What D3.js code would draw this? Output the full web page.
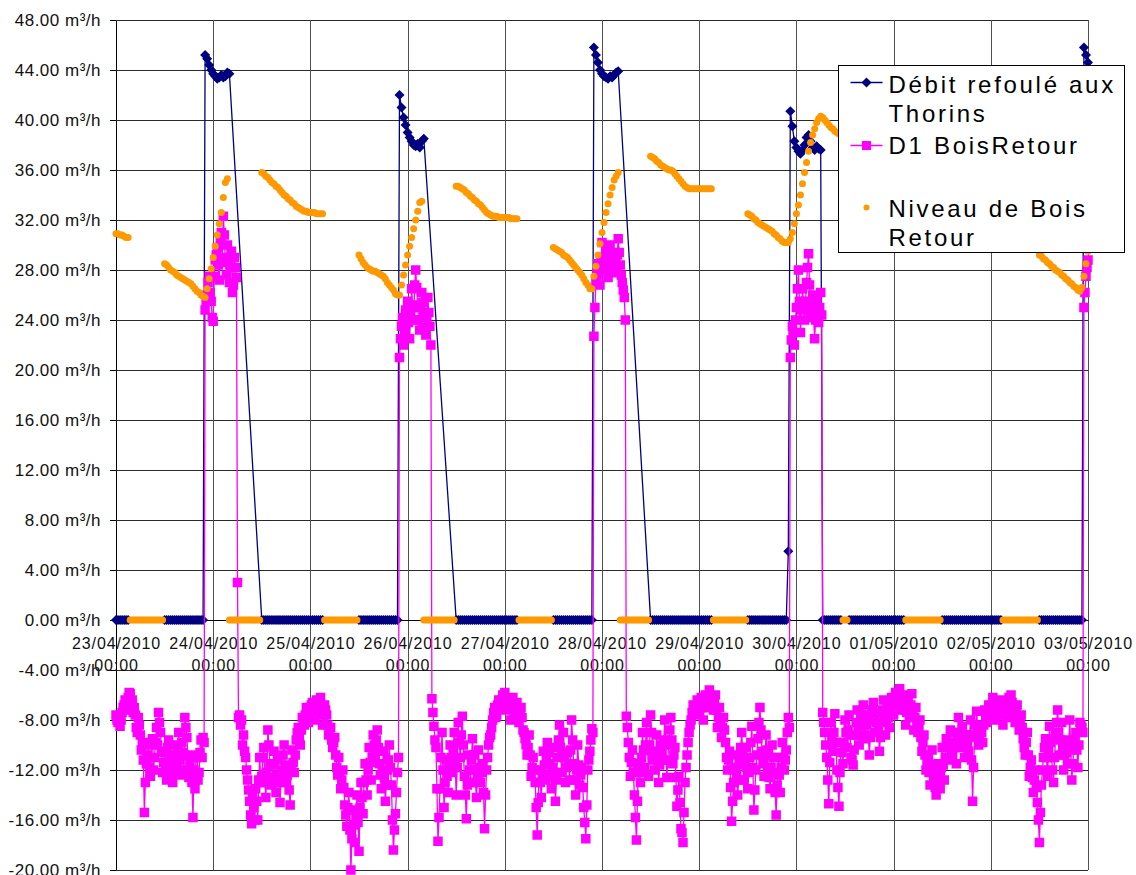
<!DOCTYPE html>
<html>
<head>
<meta charset="utf-8">
<script src="https://cdn.jsdelivr.net/npm/d3@7/dist/d3.min.js"></script>
<style>
body { margin: 0; background: #fff; }
svg { display: block; font-family: "Liberation Sans", Arial, sans-serif; }
</style>
</head>
<body>
<svg id="chart" width="1136" height="875"></svg>
<script>
// one reading every 30 min, index 0 = 23/04/2010 00:00, one row per day, _ = no reading
var _ = null;
var dateLabels = ["23/04/2010", "24/04/2010", "25/04/2010", "26/04/2010", "27/04/2010", "28/04/2010",
                  "29/04/2010", "30/04/2010", "01/05/2010", "02/05/2010", "03/05/2010"];
var timeLabel = "00:00";
var yTicks = [-20, -16, -12, -8, -4, 0, 4, 8, 12, 16, 20, 24, 28, 32, 36, 40, 44, 48];

var debitThorins = [
  0,0,0,0,0,0,0, _,_,_,_,_,_,_,_,_,_,_,_,_,_,_,_,_, 0,0,0,0,0,0,0,0,0,0,0,0,0,0,0,0,0,0,0,0, 45.2,44.9,44.4,44.0,
  43.7,43.5,43.3,43.4,43.6,43.4,43.5,43.8,43.7, _,_,_,_,_,_,_,_,_,_,_,_,_,_,_, 0,0,0,0,0,0,0,0,0,0,0,0,0,0,0,0,0,0,0,0,0,0,0,0,
  0,0,0,0,0,0,0, _,_,_,_,_,_,_,_,_,_,_,_,_,_,_,_,_, 0,0,0,0,0,0,0,0,0,0,0,0,0,0,0,0,0,0,0,0, 42.0,41.0,40.2,39.6,
  39.0,38.6,38.3,38.0,37.9,38.1,37.8,38.3,38.5, _,_,_,_,_,_,_,_,_,_,_,_,_,_,_, 0,0,0,0,0,0,0,0,0,0,0,0,0,0,0,0,0,0,0,0,0,0,0,0,
  0,0,0,0,0,0,0, _,_,_,_,_,_,_,_,_,_,_,_,_,_,_,_,_, 0,0,0,0,0,0,0,0,0,0,0,0,0,0,0,0,0,0,0,0, 45.8,45.2,44.6,44.0,
  43.7,43.5,43.4,43.3,43.5,43.4,43.6,43.8,43.9, _,_,_,_,_,_,_,_,_,_,_,_,_,_,_, 0,0,0,0,0,0,0,0,0,0,0,0,0,0,0,0,0,0,0,0,0,0,0,0,
  0,0,0,0,0,0,0, _,_,_,_,_,_,_,_,_,_,_,_,_,_,_,_,_, 0,0,0,0,0,0,0,0,0,0,0,0,0,0,0,0,0,0,0,0, 5.5,40.7,39.5,38.3,
  37.8,37.5,37.3,37.6,38.0,38.6,38.8,38.3,37.8,37.6,37.9,37.7,37.6, 0,0,0,0,0,0,0,0,0,0, _,_,_, 0,0,0,0,0,0,0,0,0,0,0,0,0,0,0,0,0,0,0,0,0,0,
  0,0,0,0,0,0, _,_,_,_,_,_,_,_,_,_,_,_,_,_,_,_,_,_, 0,0,0,0,0,0,0,0,0,0,0,0,0,0,0,0,0,0,0,0,0,0,0,0,
  0,0,0,0,0,0, _,_,_,_,_,_,_,_,_,_,_,_,_,_,_,_,_,_, 0,0,0,0,0,0,0,0,0,0,0,0,0,0,0,0,0,0,0,0,0,0, 45.8,45.2,
  44.6
];

// D1 BoisRetour, readings on the hour and half hour
var d1BoisRetour = [
  -7.6,-8.2,-8.5,-7.4,-6.8,-6.6,-6.2,-5.9,-6.4,-7.0,-8.6,-7.8,-9.2,-9.8,-15.4,-11.5,-10.0,-12.5,-9.5,-11.0,-8.6,-7.4,-9.0,-12.2,
    -10.5,-12.8,-9.6,-11.2,-13.0,-10.0,-11.8,-9.0,-12.4,-10.6,-7.8,-9.4,-12.6,-11.0,-15.8,-13.5,-10.8,-12.2,-9.6,-9.4,24.8,26.0,27.5,25.5,
  23.9,28.8,29.8,27.2,31.0,32.3,28.6,30.0,27.0,29.5,26.8,28.2,3.0,-7.6,-8.0,-9.2,-11.0,-12.8,-14.5,-16.3,-15.0,-13.5,-16.0,-11.0,
    -12.5,-10.2,-14.2,-8.8,-11.5,-12.8,-10.5,-13.8,-11.2,-14.6,-12.0,-10.0,-13.0,-11.8,-14.8,-10.4,-12.2,-9.6,-8.6,-10.0,-7.8,-8.4,-7.0,-8.2,
  -7.2,-6.6,-8.0,-6.4,-7.4,-6.2,-8.4,-6.8,-7.6,-9.2,-8.6,-10.2,-9.4,-11.8,-11.0,-13.5,-12.0,-14.8,-16.5,-13.8,-20.0,-15.2,-17.8,-14.0,
    -18.5,-13.0,-15.5,-11.5,-14.0,-10.2,-12.8,-9.2,-10.8,-8.8,-11.5,-13.5,-10.5,-14.5,-12.0,-10.0,-13.2,-18.4,-15.5,-12.2,21.0,23.5,22.0,24.8,
  25.5,22.5,26.5,24.0,28.0,25.0,23.2,26.2,24.5,22.8,25.8,23.5,-6.3,-8.5,-10.2,-17.7,-13.5,-9.0,-15.0,-11.2,-13.8,-10.0,-12.2,-9.0,
    -14.0,-8.2,-11.0,-7.7,-12.5,-15.9,-10.8,-13.0,-9.5,-12.0,-14.2,-10.4,-13.0,-11.5,-16.7,-12.0,-10.0,-9.2,-8.0,-7.0,-7.6,-6.4,-7.2,-6.0,
  -5.8,-7.0,-6.4,-8.0,-6.2,-7.4,-6.6,-8.2,-7.0,-8.8,-9.5,-10.8,-9.2,-12.5,-11.0,-13.0,-17.2,-12.0,-14.2,-10.5,-12.8,-9.8,-11.5,-13.5,
    -10.2,-14.5,-11.0,-8.4,-12.2,-9.0,-13.0,-10.6,-12.8,-8.0,-11.5,-14.0,-10.0,-13.2,-11.8,-15.0,-17.5,-12.0,-10.5,-8.7,22.7,27.0,28.5,26.8,
  30.2,28.0,29.5,27.4,30.0,28.6,29.2,27.8,30.5,28.4,27.0,25.8,-7.7,-9.8,-12.5,-10.4,-14.0,-17.6,-11.5,-13.0,-9.0,-11.8,-8.2,-12.5,
    -7.6,-10.5,-12.0,-9.2,-13.0,-10.0,-11.2,-8.0,-12.6,-9.8,-7.8,-11.5,-10.2,-14.9,-12.5,-16.7,-17.8,-13.0,-10.8,-9.0,-8.0,-6.8,-7.6,-6.4,
  -7.4,-6.2,-8.0,-6.0,-7.0,-5.6,-6.5,-7.2,-6.0,-8.6,-7.0,-9.4,-7.8,-9.8,-12.0,-10.5,-16.1,-13.0,-10.8,-14.0,-11.5,-9.0,-12.8,-10.2,
    -13.5,-11.0,-8.5,-15.2,-12.0,-9.5,-7.0,-10.5,-12.5,-9.2,-11.8,-13.5,-10.0,-12.2,-15.6,-11.0,-13.8,-9.8,-12.0,-10.4,-7.8,21.0,23.5,22.0,
  25.0,28.0,23.0,26.5,24.0,27.0,29.3,24.5,26.0,22.5,25.5,23.8,26.2,-7.4,-9.0,-11.0,-14.7,-8.2,-10.5,-7.5,-12.0,-14.9,-9.8,-11.5,
    -8.0,-10.2,-7.6,-11.0,-11.6,-9.2,-7.2,-10.0,-8.4,-6.8,-9.5,-7.6,-10.8,-8.0,-6.6,-9.0,-7.4,-10.5,-8.2,-6.4,-9.2,-7.0,-8.6,-6.2,
  -7.6,-5.8,-6.8,-5.5,-7.2,-6.0,-8.4,-6.6,-7.8,-5.9,-8.8,-7.0,-9.0,-8.0,-10.5,-9.2,-12.0,-11.0,-13.2,-10.4,-12.6,-14.0,-11.5,-13.5,
    -10.2,-12.8,-9.5,-11.2,-8.8,-10.8,-9.0,-11.5,-7.8,-10.2,-8.5,-11.0,-9.2,-10.5,-8.0,-14.5,-9.4,-7.3,-10.0,-8.6,-9.8,-7.2,-8.2,-6.8,
  -7.4,-6.2,-8.0,-6.8,-7.6,-6.4,-8.4,-6.8,-7.8,-6.2,-6.0,-7.2,-8.2,-6.8,-8.8,-7.6,-9.5,-10.8,-9.0,-12.5,-11.2,-13.8,-12.0,-14.6,
    -17.8,-13.2,-11.0,-9.5,-12.5,-8.5,-11.0,-13.0,-9.2,-7.2,-10.8,-8.2,-12.0,-9.6,-11.5,-8.0,-12.8,-10.2,-9.0,-11.8,-8.2,-8.6,25.0,27.5,
  28.8
];

// D1 BoisRetour, readings at :15 and :45 (each one sits after the same index above)
var d1BoisRetourQuarter = [
  -8.0,-7.8,-8.0,-7.0,-6.4,-7.2,-5.8,-6.8,-7.4,-7.6,-9.0,-8.4,-10.4,-11.2,-13.0,-10.8,-11.8,-9.8,-12.0,-9.8,-10.0,-8.2,-10.6,-11.4,
    -12.0,-10.2,-11.8,-12.5,-10.8,-12.0,-10.4,-11.2,-9.8,-12.0,-8.6,-10.8,-11.5,-13.0,-12.0,-11.0,-12.8,-10.6,-11.0,-9.8,25.5,27.0,26.2,24.2,
  27.5,29.2,28.4,30.5,29.0,30.8,27.6,28.8,28.2,26.2,29.0,27.4,-7.8,-8.4,-10.0,-10.5,-12.0,-13.6,-15.6,-14.2,-16.0,-14.5,-12.8,-13.0,
    -11.0,-13.0,-12.2,-10.0,-13.2,-11.6,-12.6,-12.4,-13.0,-12.8,-10.8,-11.6,-12.4,-13.6,-12.0,-11.4,-10.8,-9.0,-9.4,-8.8,-8.0,-7.6,-7.8,-7.4,
  -6.8,-7.4,-7.2,-7.0,-6.8,-7.4,-7.6,-7.2,-8.4,-8.8,-9.6,-9.8,-10.8,-12.4,-12.2,-12.8,-13.4,-15.6,-15.0,-16.8,-17.5,-16.4,-15.8,-16.2,
    -15.0,-14.2,-13.0,-12.8,-12.0,-11.4,-11.0,-10.0,-9.6,-10.2,-12.4,-12.0,-12.6,-13.2,-11.2,-11.8,-16.0,-16.8,-13.8,-11.0,22.5,24.2,23.2,23.8,
  23.8,24.6,25.2,26.8,26.6,24.0,25.0,25.4,23.4,24.2,24.6,22.0,-7.4,-9.6,-13.5,-15.8,-11.0,-12.0,-13.0,-12.5,-11.8,-11.0,-10.4,-11.5,
    -11.8,-9.8,-9.2,-10.0,-14.0,-13.2,-12.0,-11.2,-10.8,-13.0,-12.4,-11.8,-12.2,-13.8,-14.0,-11.0,-9.4,-8.6,-7.4,-7.8,-6.8,-6.8,-6.4,-6.6,
  -6.6,-6.6,-7.2,-7.0,-6.8,-7.0,-7.4,-7.6,-7.8,-9.0,-10.0,-10.2,-10.8,-11.8,-12.0,-15.0,-14.6,-13.0,-12.4,-11.6,-11.2,-10.6,-12.4,-11.8,
    -12.2,-12.8,-9.6,-10.2,-10.6,-11.0,-11.8,-11.6,-10.4,-9.6,-12.8,-12.0,-11.6,-12.4,-13.4,-16.2,-14.8,-11.2,-9.6,-9.0,25.0,27.8,27.6,28.6,
  29.0,28.8,28.4,28.8,29.4,27.8,28.4,29.2,29.4,27.6,26.4,24.0,-8.6,-11.0,-11.4,-12.2,-15.8,-14.5,-12.2,-11.0,-10.4,-10.0,-10.4,-10.0,
    -9.0,-11.2,-10.6,-11.0,-11.6,-10.6,-9.6,-10.0,-11.2,-8.8,-9.6,-10.8,-12.6,-13.6,-14.6,-17.0,-15.4,-11.8,-9.8,-8.4,-7.4,-7.2,-7.0,-6.8,
  -6.8,-7.0,-7.0,-6.4,-6.2,-6.0,-6.8,-6.6,-7.2,-7.8,-8.2,-8.6,-8.8,-11.0,-11.2,-13.4,-14.5,-11.8,-12.4,-12.8,-10.2,-10.8,-11.6,-11.8,
    -12.2,-9.8,-11.8,-13.6,-10.8,-8.2,-8.8,-11.5,-10.8,-10.4,-12.6,-11.8,-11.0,-13.8,-13.2,-12.4,-11.8,-11.0,-11.2,-9.0,-8.6,22.4,23.0,24.0,
  26.5,25.5,24.8,25.2,25.5,28.2,26.8,25.2,24.2,24.0,24.6,25.0,24.4,-8.2,-10.0,-12.8,-11.4,-9.4,-9.0,-9.8,-13.4,-12.2,-10.6,-9.8,
    -9.0,-8.8,-9.2,-11.2,-10.4,-8.2,-8.6,-9.2,-7.6,-8.2,-8.4,-9.2,-9.4,-7.2,-7.8,-8.2,-8.8,-9.4,-7.2,-7.8,-8.0,-7.8,-7.4,-6.8,
  -6.8,-6.2,-6.0,-6.4,-6.6,-7.2,-7.4,-7.2,-6.8,-7.4,-7.8,-8.2,-8.6,-9.4,-9.8,-10.8,-11.4,-12.2,-11.8,-11.6,-13.4,-12.8,-12.4,-11.8,
    -11.6,-11.0,-10.2,-10.0,-9.8,-9.8,-10.2,-9.6,-9.0,-9.4,-9.8,-10.0,-9.8,-9.2,-11.2,-11.8,-8.4,-8.6,-9.2,-9.0,-8.4,-7.8,-7.4,-7.2,
  -6.8,-7.2,-7.4,-7.2,-7.0,-7.4,-7.6,-7.2,-7.0,-6.4,-6.6,-7.6,-7.4,-7.8,-8.2,-8.6,-10.2,-9.8,-10.8,-11.8,-12.6,-12.8,-13.4,-16.0,
    -15.4,-12.0,-10.2,-11.0,-10.5,-9.8,-12.0,-11.0,-8.2,-9.0,-9.6,-10.2,-10.8,-10.6,-9.8,-10.4,-11.5,-9.6,-10.4,-10.0,-8.4,-9.0,26.2,28.2
];

var niveauBoisRetour = [
  30.9,30.9,30.8,30.8,30.7,30.6,30.6, 0,0,0,0,0,0,0,0,0,0,0,0,0,0,0,0,0,
    28.5,28.4,28.2,28.0,27.9,27.8,27.6,27.5,27.4,27.3,27.2,27.1,27.0,26.9,26.7,26.5,26.3,26.2,26.0,25.9,25.8,26.5,27.3,28.1,
  29.0,29.9,30.8,31.7,32.6,33.8,35.0,35.3, 0,0,0,0,0,0,0,0,0,0,0,0,0,0,0,0,
    35.8,35.7,35.5,35.4,35.2,35.0,34.9,34.7,34.6,34.4,34.2,34.0,33.9,33.7,33.6,33.4,33.3,33.1,33.0,32.9,32.8,32.7,32.7,32.6,
  32.6,32.6,32.6,32.5,32.5,32.5,32.5, 0,0,0,0,0,0,0,0,0,0,0,0,0,0,0,0,0,
    29.2,28.9,28.6,28.4,28.2,28.1,28.0,27.9,27.9,27.8,27.7,27.6,27.5,27.3,27.0,26.8,26.6,26.4,26.1,26.0,26.0,26.8,27.6,28.4,
  29.2,29.9,30.6,31.3,32.0,32.7,33.4,33.5, 0,0,0,0,0,0,0,0,0,0,0,0,0,0,0,0,
    34.7,34.7,34.6,34.5,34.4,34.2,34.1,33.9,33.8,33.6,33.5,33.3,33.2,33.0,32.8,32.6,32.5,32.4,32.3,32.3,32.3,32.2,32.2,32.2,
  32.2,32.2,32.2,32.1,32.1,32.1,32.1, 0,0,0,0,0,0,0,0,0,0,0,0,0,0,0,0,0,
    29.8,29.7,29.6,29.5,29.4,29.2,29.1,29.0,28.8,28.6,28.4,28.2,28.0,27.8,27.6,27.3,27.0,26.8,26.5,26.5,27.5,28.3,29.2,30.1,
  31.0,31.8,32.6,33.3,34.0,34.6,35.2,35.5,35.8, 0,0,0,0,0,0,0,0,0,0,0,0,0,0,0,
    37.1,37.0,36.9,36.7,36.6,36.4,36.3,36.2,36.1,36.0,36.0,35.9,35.7,35.5,35.3,35.1,34.9,34.7,34.6,34.5,34.5,34.5,34.5,34.5,
  34.5,34.5,34.5,34.5,34.5,34.5,34.5, 0,0,0,0,0,0,0,0,0,0,0,0,0,0,0,0,0,
    32.5,32.4,32.3,32.1,32.0,31.8,31.7,31.6,31.5,31.4,31.3,31.2,31.1,30.9,30.8,30.6,30.5,30.3,30.2,30.2,30.2,30.5,31.0,31.7,
  32.5,33.2,34.0,34.9,35.8,36.6,37.5,38.2,38.8,39.3,39.8,40.1,40.3,40.2,40.0,39.8,39.6,39.4,39.3,39.1,39.0,38.9,38.9, 0,0,0,
    38.5,38.3,38.2,38.0,37.9,37.7,37.6,37.4,37.3,37.1,37.0,36.9,36.8,36.7,36.6,36.5,36.4,36.3,36.2,36.1,36.0,36.0,
  35.9,35.9,35.8,35.8,35.7,35.7, 0,0,0,0,0,0,0,0,0,0,0,0,0,0,0,0,0,0,
    33.5,33.4,33.3,33.2,33.1,33.0,32.9,32.8,32.7,32.6,32.5,32.4,32.3,32.2,32.1,32.1,32.0,32.0,31.9,31.9,31.8,31.8,31.7,31.7,
  31.6,31.6,31.5,31.5,31.4,31.4, 0,0,0,0,0,0,0,0,0,0,0,0,0,0,0,0,0,0,
    29.2,29.1,28.9,28.8,28.6,28.5,28.3,28.2,28.0,27.9,27.8,27.6,27.5,27.3,27.2,27.0,26.9,26.7,26.6,26.4,26.3,26.6,27.5,28.5,
  29.5
];

var navy = "#000080", magenta = "#FF00FF", orange = "#FF9900";
var perDay = 48;
var steps = (dateLabels.length - 1) * perDay;

[debitThorins, d1BoisRetour, niveauBoisRetour].forEach(function(a, k){
	if( a.length !== steps + 1 )
		throw new Error("series " + k + " has " + a.length + " values");
});
if( d1BoisRetourQuarter.length !== steps )
	throw new Error("quarter readings: " + d1BoisRetourQuarter.length);

var svg = d3.select("#chart");

var x = d3.scaleLinear().domain([0, steps]).range([116, 1088]);
var y = d3.scaleLinear().domain([-20, 48]).range([870, 20]);

var toPoints = function(values, offset){
	var pts = [];
	values.forEach(function(v, i){
		if( v !== null )
			pts.push({ t: i + (offset || 0), v: v });
	});
	return pts;
}

// horizontal grid + y labels
var yAxis = d3.axisLeft(y)
	.tickValues(yTicks)
	.tickSize(6)
	.tickPadding(9)
	.tickFormat(function(d){ return d.toFixed(2) + " m³/h"; });

var gy = svg.append("g").attr("transform", "translate(116,0)").call(yAxis);
gy.select(".domain").attr("stroke", "#000");
gy.selectAll(".tick line").attr("stroke", "#000");
gy.selectAll(".tick text")
	.attr("fill", "#111")
	.style("font-size", "17px")
	.style("letter-spacing", "0.5px");
gy.selectAll(".tick").append("line")
	.attr("x1", 0).attr("x2", x(steps) - 116)
	.attr("stroke", "#2a2a2a").attr("stroke-width", 1);

// vertical grid, one per day
var dayTicks = dateLabels.map(function(d, i){ return i * perDay; });
svg.append("g").selectAll("line")
	.data(dayTicks.slice(1))
	.enter().append("line")
	.attr("x1", function(d){ return Math.round(x(d)) + 0.5; })
	.attr("x2", function(d){ return Math.round(x(d)) + 0.5; })
	.attr("y1", y(48)).attr("y2", y(-20))
	.attr("stroke", "#505050").attr("stroke-width", 1);

// x axis sits on the zero line
var xAxis = d3.axisBottom(x).tickValues(dayTicks).tickSize(0).tickFormat("");
var gx = svg.append("g").attr("transform", "translate(0," + y(0) + ")").call(xAxis);
gx.select(".domain").attr("stroke", "#000");
var xt = gx.selectAll(".tick").append("text")
	.attr("fill", "#111")
	.attr("text-anchor", "middle")
	.style("font-size", "16px")
	.style("letter-spacing", "0.9px");
xt.append("tspan").attr("x", 0).attr("y", 29).text(function(d, i){ return dateLabels[i]; });
xt.append("tspan").attr("x", 0).attr("y", 51).text(timeLabel);

var diamond = "M0,-5L5,0L0,5L-5,0Z";

var line = d3.line()
	.x(function(d){ return x(d.t); })
	.y(function(d){ return y(d.v); });

// Débit refoulé aux Thorins
var s1 = toPoints(debitThorins);
svg.append("path").datum(s1).attr("d", line)
	.attr("fill", "none").attr("stroke", navy).attr("stroke-width", 1.3);
svg.append("g").selectAll("path")
	.data(s1).enter().append("path")
	.attr("d", diamond)
	.attr("transform", function(d){ return "translate(" + x(d.t) + "," + y(d.v) + ")"; })
	.attr("fill", navy);

// D1 BoisRetour, both reading lists merged in time order
var sq = 9.5;
var s2 = toPoints(d1BoisRetour).concat(toPoints(d1BoisRetourQuarter, 0.5))
	.sort(function(a, b){ return a.t - b.t; });
svg.append("path").datum(s2).attr("d", line)
	.attr("fill", "none").attr("stroke", magenta).attr("stroke-width", 1.3);
svg.append("g").selectAll("rect")
	.data(s2).enter().append("rect")
	.attr("x", function(d){ return x(d.t) - sq / 2; })
	.attr("y", function(d){ return y(d.v) - sq / 2; })
	.attr("width", sq).attr("height", sq)
	.attr("fill", magenta);

// Niveau de Bois Retour, markers only
var s3 = toPoints(niveauBoisRetour);
svg.append("g").selectAll("circle")
	.data(s3).enter().append("circle")
	.attr("cx", function(d){ return x(d.t); })
	.attr("cy", function(d){ return y(d.v); })
	.attr("r", 3.5)
	.attr("fill", orange);

// legend
var lg = svg.append("g").attr("transform", "translate(838.5,65.5)");
lg.append("rect").attr("width", 286).attr("height", 187)
	.attr("fill", "#fff").attr("stroke", "#000").attr("stroke-width", 1);

var legendText = [
	{ lines: ["Débit refoulé aux", "Thorins"], y: 27 },
	{ lines: ["D1 BoisRetour"], y: 88 },
	{ lines: ["Niveau de Bois", "Retour"], y: 151 }
];
legendText.forEach(function(e){
	var t = lg.append("text")
		.attr("fill", "#000")
		.style("font-size", "24px")
		.style("letter-spacing", "2.7px");
	e.lines.forEach(function(s, k){
		t.append("tspan").attr("x", 50).attr("y", e.y + k * 29).text(s);
	});
});

lg.append("line").attr("x1", 12).attr("x2", 44).attr("y1", 17).attr("y2", 17)
	.attr("stroke", navy).attr("stroke-width", 1.3);
lg.append("path").attr("d", diamond).attr("transform", "translate(28,17)").attr("fill", navy);

lg.append("line").attr("x1", 12).attr("x2", 44).attr("y1", 80).attr("y2", 80)
	.attr("stroke", magenta).attr("stroke-width", 1.3);
lg.append("rect").attr("x", 28 - 4.5).attr("y", 80 - 4.5).attr("width", 9).attr("height", 9).attr("fill", magenta);

lg.append("circle").attr("cx", 28).attr("cy", 142).attr("r", 3).attr("fill", orange);
</script>
</body>
</html>
